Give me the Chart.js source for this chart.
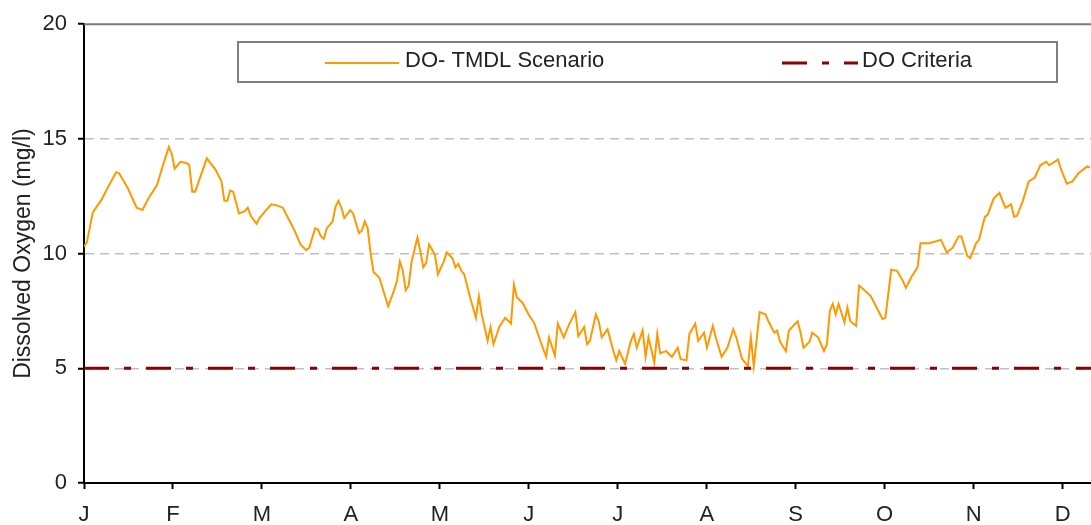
<!DOCTYPE html>
<html>
<head>
<meta charset="utf-8">
<title>Dissolved Oxygen</title>
<script src="https://cdn.jsdelivr.net/npm/chart.js@4/dist/chart.umd.min.js"></script>
<style>
  html, body { margin: 0; padding: 0; background: #fff; }
  #wrap { width: 1091px; height: 525px; position: relative; }
</style>
</head>
<body>
<div id="wrap"><canvas id="doChart"></canvas></div>
<script>
// month letters on the time axis (one tick per month, day-of-year)
const monthLabels = ['J', 'F', 'M', 'A', 'M', 'J', 'J', 'A', 'S', 'O', 'N', 'D'];
const monthStarts = monthLabels.map((m, i) => i * 365 / 12);
const yTicks = [0, 5, 10, 15, 20];

// simulated DO, day of year vs mg/l
const days = [
  0, 1, 3, 6, 8, 11, 12, 15, 18, 20, 22, 25, 27, 29, 30, 31, 33, 35, 36, 37, 38,
  42, 45, 47, 48, 49, 50, 51, 53, 55, 56, 57, 59, 60, 62, 64, 66, 68, 70, 72, 74,
  76, 77, 79, 80, 81, 82, 83, 85, 86, 87, 88, 89, 91, 92, 94, 95, 96, 97, 98, 99,
  101, 104, 106, 107, 108, 109, 110, 111, 112, 114, 115, 116, 117, 118, 120, 121,
  123, 124, 126, 127, 128, 129, 130, 132, 133, 134, 135, 136, 138, 139, 140, 142,
  144, 146, 147, 148, 150, 152, 154, 156, 158, 159, 161, 162, 164, 166, 168, 169,
  171, 172, 173, 175, 176, 177, 179, 181, 182, 183, 185, 187, 188, 189, 191, 192,
  193, 195, 196, 197, 199, 201, 203, 204, 206, 207, 209, 210, 212, 213, 215, 216,
  218, 220, 222, 223, 225, 227, 228, 229, 231, 233, 234, 236, 237, 238, 240, 241,
  244, 245, 246, 248, 249, 251, 253, 254, 255, 256, 257, 258, 260, 261, 262, 264,
  265, 266, 269, 271, 273, 274, 275, 276, 278, 280, 281, 283, 285, 286, 289, 293,
  295, 297, 299, 300, 302, 303, 305, 306, 308, 309, 311, 313, 315, 317, 318, 319,
  321, 323, 325, 327, 329, 330, 333, 334, 336, 338, 340, 343, 344
];
const doScenario = [
  10.3, 10.5, 11.8, 12.35, 12.85, 13.55, 13.5, 12.85, 12.0, 11.9, 12.4, 13.0, 13.85, 14.65, 14.35, 13.7, 14.0, 13.95, 13.85, 12.7, 12.7,
  14.15, 13.65, 13.15, 12.3, 12.3, 12.75, 12.7, 11.75, 11.85, 12.0, 11.65, 11.3, 11.55, 11.85, 12.15, 12.1, 12.0, 11.5, 11.0, 10.4,
  10.15, 10.25, 11.1, 11.05, 10.75, 10.65, 11.1, 11.4, 12.05, 12.3, 12.0, 11.55, 11.9, 11.75, 10.9, 11.0, 11.4, 11.1, 10.0, 9.2,
  8.95, 7.7, 8.4, 8.8, 9.65, 9.25, 8.4, 8.6, 9.65, 10.7, 10.1, 9.4, 9.6, 10.4, 9.95, 9.1,
  9.65, 10.05, 9.8, 9.4, 9.55, 9.25, 9.1, 8.1, 7.65, 7.2, 8.15, 7.35, 6.2, 6.8, 6.05, 6.8,
  7.2, 6.95, 8.65, 8.1, 7.85, 7.35, 6.95, 6.2, 5.5, 6.35, 5.55, 6.95, 6.35, 6.95, 7.45, 6.4,
  6.8, 6.05, 6.2, 7.35, 7.05, 6.35, 6.7, 5.75, 5.35, 5.75, 5.2, 6.2, 6.5, 5.9, 6.65, 5.5,
  6.35, 5.25, 6.5, 5.65, 5.75, 5.5, 5.9, 5.4, 5.35, 6.5, 6.95, 6.2, 6.55, 5.9, 6.85, 6.35,
  5.5, 5.9, 6.7, 6.35, 5.4, 5.1, 6.35, 5.1, 7.45, 7.35, 7.05, 6.55, 6.65, 6.15, 5.75, 6.65,
  7.05, 6.55, 5.9, 6.15, 6.55, 6.35, 5.75, 6.05, 7.5, 7.8, 7.35, 7.8, 7.0, 7.65, 7.05, 6.85,
  8.6, 8.5, 8.15, 7.65, 7.15, 7.2, 8.25, 9.3, 9.25, 8.8, 8.5, 9.0, 9.4, 10.45, 10.45, 10.6,
  10.05, 10.25, 10.75, 10.75, 9.9, 9.8, 10.45, 10.6, 11.6, 11.7, 12.4, 12.65, 12.0, 12.15, 11.6, 11.65,
  12.3, 13.15, 13.3, 13.85, 14.0, 13.85, 14.1, 13.7, 13.05, 13.15, 13.5, 13.8, 13.75
];

// DO standard, constant across the year
const criteriaDays = [0, 344.3];
const criteriaValues = [5, 5];

const xMax = 344.3;
const fontFamily = "'Liberation Sans', Arial, sans-serif";

// boxed legend inside the plot plus the grey frame line along the top
const frameAndLegend = {
  id: 'frameAndLegend',
  beforeDatasetsDraw(chart) {
    const {ctx, chartArea} = chart;
    ctx.save();
    ctx.strokeStyle = '#7a7a7a';
    ctx.lineWidth = 2;
    ctx.beginPath();
    ctx.moveTo(chartArea.left, chartArea.top);
    ctx.lineTo(chartArea.right, chartArea.top);
    ctx.stroke();
    ctx.restore();
  },
  afterDraw(chart) {
    const ctx = chart.ctx;
    const sets = chart.data.datasets;
    ctx.save();
    ctx.fillStyle = '#fff';
    ctx.fillRect(238, 42, 819, 40);
    ctx.strokeStyle = '#808080';
    ctx.lineWidth = 2;
    ctx.strokeRect(238, 42, 819, 40);

    const items = [
      {ds: sets[0], x1: 325, x2: 399, tx: 405},
      {ds: sets[1], x1: 782, x2: 858, tx: 862}
    ];
    items.forEach(it => {
      ctx.strokeStyle = it.ds.borderColor;
      ctx.lineWidth = it.ds.borderWidth;
      ctx.setLineDash(it.ds.borderDash || []);
      ctx.beginPath();
      ctx.moveTo(it.x1, 63);
      ctx.lineTo(it.x2, 63);
      ctx.stroke();
      ctx.setLineDash([]);
      ctx.fillStyle = '#222';
      ctx.font = '22px ' + fontFamily;
      ctx.textBaseline = 'alphabetic';
      ctx.fillText(it.ds.label, it.tx, 67);
    });
    ctx.restore();
  }
};

const ctx = document.getElementById('doChart').getContext('2d');
new Chart(ctx, {
  type: 'line',
  data: {
    datasets: [
      {
        label: 'DO- TMDL Scenario',
        data: days.map((d, i) => ({x: d, y: doScenario[i]})),
        borderColor: '#ff9900',
        borderWidth: 2,
        pointRadius: 0,
        tension: 0,
        order: 2
      },
      {
        label: 'DO Criteria',
        data: criteriaDays.map((d, i) => ({x: d, y: criteriaValues[i]})),
        borderColor: '#8b0000',
        borderWidth: 3,
        borderDash: [25, 15, 7, 15],
        pointRadius: 0,
        tension: 0,
        order: 1
      }
    ]
  },
  options: {
    responsive: true,
    maintainAspectRatio: false,
    animation: false,
    layout: { padding: { top: 22, left: 0, right: 0, bottom: 0 } },
    plugins: {
      legend: { display: false },
      tooltip: { enabled: false }
    },
    scales: {
      x: {
        type: 'linear',
        min: 0,
        max: xMax,
        afterBuildTicks: scale => {
          scale.ticks = monthStarts.map(v => ({value: v}));
        },
        afterFit: scale => { scale.height = 42; },
        ticks: {
          autoSkip: false,
          maxRotation: 0,
          padding: 13,
          color: '#222',
          font: { family: fontFamily, size: 22 },
          callback: (value, index) => monthLabels[index]
        },
        grid: {
          drawOnChartArea: false,
          drawTicks: true,
          tickLength: 6,
          tickWidth: 2,
          tickColor: '#000'
        },
        border: { display: true, color: '#000', width: 2 }
      },
      y: {
        min: 0,
        max: 20,
        afterBuildTicks: scale => {
          scale.ticks = yTicks.map(v => ({value: v}));
        },
        afterFit: scale => { scale.width = 84; },
        ticks: {
          padding: 11,
          color: '#222',
          font: { family: fontFamily, size: 22 }
        },
        grid: {
          color: c => (c.tick && (c.tick.value === 0 || c.tick.value === 20)) ? 'rgba(0,0,0,0)' : '#c0c0c0',
          lineWidth: 1.5,
          drawTicks: true,
          tickLength: 6,
          tickWidth: 2,
          tickColor: '#000'
        },
        border: { display: true, color: '#000', width: 2, dash: [9, 6] },
        title: {
          display: true,
          text: 'Dissolved Oxygen (mg/l)',
          color: '#222',
          font: { family: fontFamily, size: 23 },
          padding: { top: 10, bottom: 0 }
        }
      }
    }
  },
  plugins: [frameAndLegend]
});
</script>
</body>
</html>
